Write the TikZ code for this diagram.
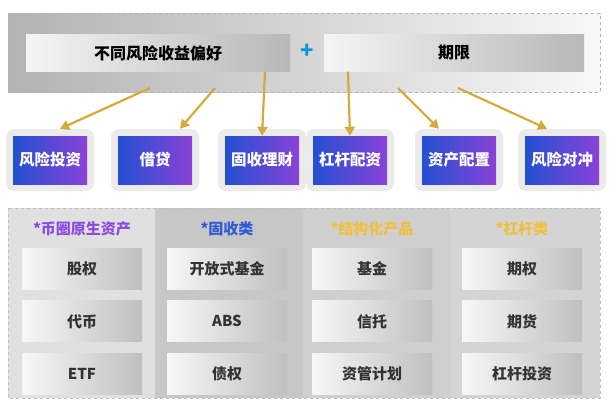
\documentclass[tikz,border=0pt]{standalone}
\usepackage{fontspec}
\setmainfont{Noto Sans CJK SC}
\usetikzlibrary{positioning, arrows.meta}
\definecolor{tipblue}{HTML}{2350D2}
\definecolor{tippurple}{HTML}{8A42D8}
\definecolor{arrowgold}{HTML}{D4AA3A}
\definecolor{headpurple}{HTML}{8A4AE0}
\definecolor{headblue}{HTML}{2F5BD6}
\definecolor{headgold}{HTML}{F0C040}
\tikzset{
    topbar/.style={draw=none, left color=black!4, right color=black!28, minimum height=37pt, font=\bfseries\fontsize{16}{18}\selectfont},
    halo/.style={fill=black!8, rounded corners=8pt, minimum width=88pt, minimum height=62pt},
    tile/.style={left color=tipblue, right color=tippurple, text=white, font=\bfseries\fontsize{15.5}{18}\selectfont, minimum width=74pt, minimum height=48pt, inner sep=1pt},
    item/.style={left color=black!3, right color=black!25, minimum width=120pt, minimum height=41pt, font=\bfseries\fontsize{15}{18}\selectfont, text=black!80},
    head/.style={font=\bfseries\fontsize{15}{18}\selectfont},
    goldarrow/.style={draw=arrowgold, line width=2.2pt, -{Triangle[length=9pt,width=10pt]}}
}
\begin{document}
\begin{tikzpicture}[x=1pt, y=-1pt]
\useasboundingbox (0,0) rectangle (609,407);
% top frame
\fill[left color=black!30, right color=black!3] (8,13) rectangle (600,92);
\draw[black!30, dashed] (8,13) rectangle (600,92);
\node[topbar, minimum width=264pt] (pref) at (158,53) {不同风险收益偏好};
\node[topbar, minimum width=260pt] (term) at (454,53) {期限};
\node[text=cyan!80!blue, font=\bfseries\fontsize{22}{22}\selectfont] (plus) at (307,51) {+};
% middle tiles
\foreach \name/\x/\txt in {vc/50/风险投资, loan/155/借贷, fix/262/固收理财, lev/350/杠杆配资, alloc/459/资产配置, hedge/562/风险对冲} {
    \node[halo] (\name h) at (\x,160) {};
    \node[tile] (\name) at (\x,160) {\txt};
}
% arrows
\coordinate (a1) at (150,88);
\coordinate (a2) at (215,88);
\coordinate (a5) at (398,88);
\coordinate (a6) at (458,88);
\draw[goldarrow] (a1) -- ([xshift=10pt]vch.north);
\draw[goldarrow] (a2) -- ([xshift=25pt]loanh.north);
\draw[goldarrow] ([xshift=107pt]pref.south) -- (fix.north);
\draw[goldarrow] ([xshift=-106pt]term.south) -- (lev.north);
\draw[goldarrow] (a5) -- ([xshift=-20pt]alloch.north);
\draw[goldarrow] (a6) -- ([xshift=-15pt]hedgeh.north);
% bottom panel
\fill[black!12] (8,208) rectangle (155,398);
\fill[black!22] (155,208) rectangle (303,398);
\fill[black!19] (303,208) rectangle (450,398);
\fill[black!17] (450,208) rectangle (600,398);
\draw[black!25, dashed] (8,208) rectangle (600,398);
\foreach \name/\x/\col/\txt/\ia/\ib/\ic in {
    coin/82/headpurple/*币圈原生资产/股权/代币/ETF,
    fixed/227/headblue/*固收类/开放式基金/ABS/债权,
    struct/372/headgold/*结构化产品/基金/信托/资管计划,
    levcat/522/headgold/*杠杆类/期权/期货/杠杆投资} {
    \node[head, text=\col] (\name) at (\x,229) {\txt};
    \node[item] (\name1) at (\x,269) {\ia};
    \node[item, below=11pt of \name1] (\name2) {\ib};
    \node[item, below=11pt of \name2] (\name3) {\ic};
}
\end{tikzpicture}
\end{document}
